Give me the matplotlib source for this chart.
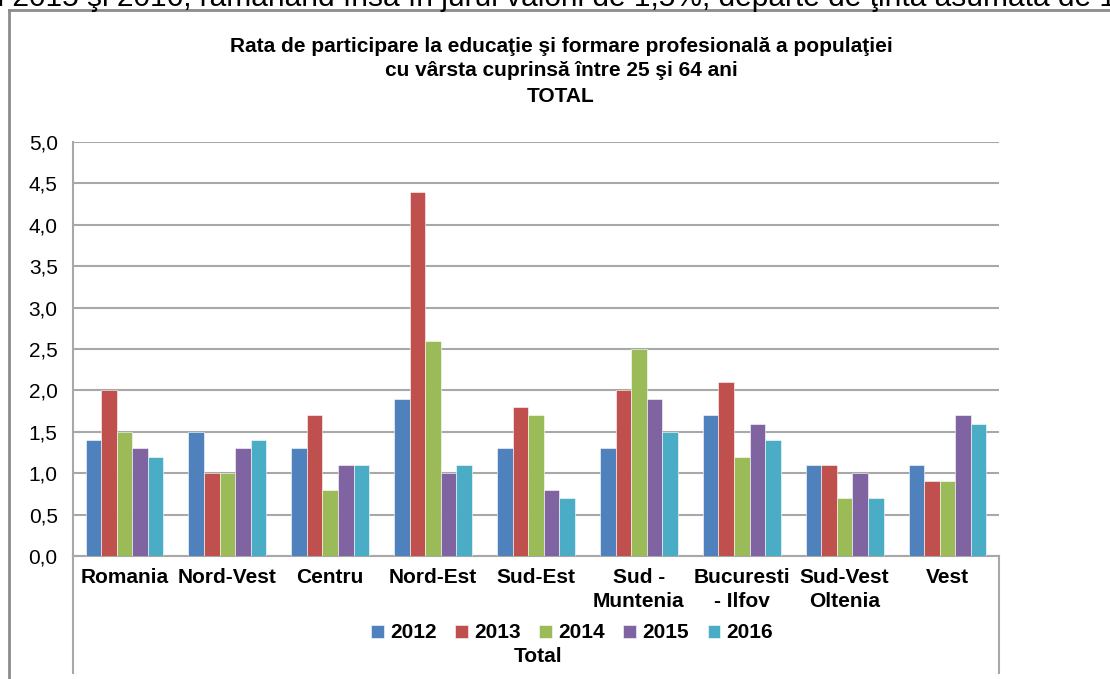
import matplotlib
matplotlib.use("Agg")
import matplotlib.pyplot as plt
from matplotlib.lines import Line2D
import numpy as np

regions = ["Romania", "Nord-Vest", "Centru", "Nord-Est", "Sud-Est",
           "Sud -\nMuntenia", "Bucuresti\n- Ilfov", "Sud-Vest\nOltenia", "Vest"]
years = ["2012", "2013", "2014", "2015", "2016"]

v2012 = [1.4, 1.5, 1.3, 1.9, 1.3, 1.3, 1.7, 1.1, 1.1]
v2013 = [2.0, 1.0, 1.7, 4.4, 1.8, 2.0, 2.1, 1.1, 0.9]
v2014 = [1.5, 1.0, 0.8, 2.6, 1.7, 2.5, 1.2, 0.7, 0.9]
v2015 = [1.3, 1.3, 1.1, 1.0, 0.8, 1.9, 1.6, 1.0, 1.7]
v2016 = [1.2, 1.4, 1.1, 1.1, 0.7, 1.5, 1.4, 0.7, 1.6]
series = [v2012, v2013, v2014, v2015, v2016]

colors = ["#4F81BD", "#C0504D", "#9BBB59", "#8064A2", "#4BACC6"]

W, H = 1110, 679
fig = plt.figure(figsize=(W / 100, H / 100), dpi=100)

def fx(px):
    return px / W

def fy(py):
    return 1 - py / H

ax = fig.add_axes([fx(73), fy(556), fx(999) - fx(73), fy(142) - fy(556)])

x = np.arange(len(regions))
bw = 0.151
for i, vals in enumerate(series):
    ax.bar(x + (i - 2) * bw, vals, bw, color=colors[i], label=years[i],
           edgecolor="white", linewidth=0.4, zorder=3)

ax.set_xlim(-0.5, len(regions) - 0.5)
ax.set_ylim(0, 5)
ticks = np.arange(0, 5.01, 0.5)
ax.set_yticks(ticks)
ax.set_yticklabels([f"{v:.1f}".replace(".", ",") for v in ticks],
                   fontsize=15, family="Liberation Sans")
ax.yaxis.grid(True, color="#a8a8a8", linewidth=1.5, zorder=0)
ax.tick_params(axis="y", length=0, pad=11)
ax.set_xticks([])

for s in ["top", "right"]:
    ax.spines[s].set_visible(False)
for s in ["left", "bottom"]:
    ax.spines[s].set_color("#a8a8a8")
    ax.spines[s].set_linewidth(1.5)

# category labels
for xi, name in zip(x, regions):
    ax.text(xi, -0.15, name, ha="center", va="top", fontsize=15,
            fontweight="bold", family="Liberation Sans", linespacing=1.3,
            transform=ax.transData)

# lines below the plot area
for px in (73, 999):
    fig.add_artist(Line2D([fx(px), fx(px)], [fy(556), fy(673)],
                          color="#a8a8a8", linewidth=1.5))

# outer frame (top and left)
fig.add_artist(Line2D([fx(9), fx(1110)], [fy(10), fy(10)], color="#8c8c8c", linewidth=2))
fig.add_artist(Line2D([fx(9), fx(9)], [fy(10), fy(679)], color="#8c8c8c", linewidth=2))

# clipped sentence at the very top
fig.text(fx(-20), fy(6), "în 2015 şi 2016, rămânând însă în jurul valorii de 1,5%, departe de ţinta asumată de 10%",
         fontsize=21.5, family="Liberation Sans", va="baseline", ha="left")

fig.text(fx(561), fy(71),
         "Rata de participare la educaţie şi formare profesională a populaţiei\n"
         "cu vârsta cuprinsă între 25 şi 64 ani\nTOTAL",
         ha="center", va="center", fontsize=15, fontweight="bold",
         family=["Liberation Sans Narrow", "Liberation Sans"], linespacing=1.4)

fig.legend(loc="center", bbox_to_anchor=(fx(572), fy(633)), ncol=5, frameon=False,
           prop={"family": "Liberation Sans", "weight": "bold", "size": 15},
           handlelength=0.6, handleheight=0.6, handletextpad=0.3,
           columnspacing=0.9, borderpad=0)

fig.text(fx(538), fy(657), "Total", ha="center", va="center", fontsize=15,
         fontweight="bold", family="Liberation Sans")

plt.savefig("out.png", dpi=100)
